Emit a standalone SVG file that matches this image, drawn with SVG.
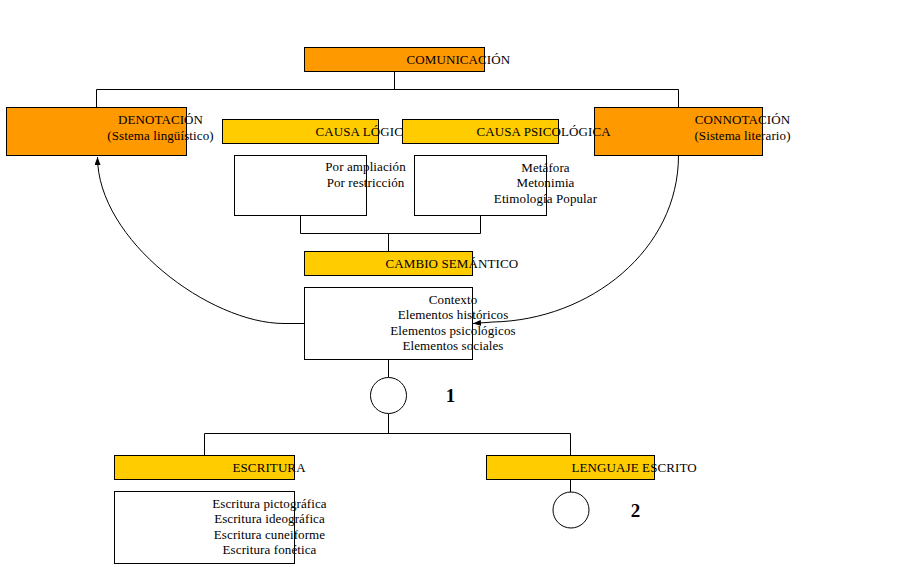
<svg xmlns="http://www.w3.org/2000/svg" width="924" height="567" viewBox="0 0 924 567">
<defs>
<style>
.o{fill:#FF9900;stroke:#000;stroke-width:1}
.y{fill:#FFCC00;stroke:#000;stroke-width:1}
.w{fill:#fff;stroke:#000;stroke-width:1}
.c{fill:none;stroke:#000;stroke-width:1}
text{font-family:"Liberation Serif","Times New Roman",serif;font-size:13px;fill:#000;letter-spacing:0.1px}
.m{text-anchor:middle}
.n{font-weight:bold;font-size:19px}
</style>
<marker id="ah" markerUnits="userSpaceOnUse" markerWidth="8" markerHeight="6" refX="8" refY="3" orient="auto">
<path d="M0,0 L8,3 L0,6 z" fill="#000"/>
</marker>
</defs>
<rect width="924" height="567" fill="#fff"/>
<g id="connectors" class="c">
<path class="c" d="M394.5,71.5 V89.5 M96.5,107.5 V89.5 H678.5 V107.5"/>
<path class="c" d="M300.5,215.5 V233.5 H480.5 V215.5 M388.5,233.5 V251.5"/>
<path class="c" d="M388.5,359.5 V377.5 M388.5,413.5 V433.5 M204.5,455.5 V433.5 H570.5 V455.5"/>
<path class="c" d="M570.5,479.5 V492"/>
<path class="c" d="M304.5,323.5 H284 C210,323.5 97.5,240 97.5,157" marker-end="url(#ah)"/>
<path class="c" d="M678.5,155.5 C678.5,250 590,320 493,322 L473,323.5" marker-end="url(#ah)"/>
</g>
<g id="comunicacion">
<rect class="o" x="304.5" y="47.5" width="180" height="24"/>
<text x="406.5" y="64">COMUNICACIÓN</text>
</g>
<g id="denotacion">
<rect class="o" x="6.5" y="107.5" width="180" height="48"/>
<text class="m" x="160.5" y="124">DENOTACIÓN</text>
<text class="m" x="160.5" y="139.5">(Sstema lingüístico)</text>
</g>
<g id="connotacion">
<rect class="o" x="594.5" y="107.5" width="168" height="48"/>
<text class="m" x="742.5" y="124">CONNOTACIÓN</text>
<text class="m" x="742.5" y="139.5">(Sistema literario)</text>
</g>
<g id="causa-logica">
<rect class="y" x="222.5" y="119.5" width="156" height="24"/>
<text x="315.5" y="135.5">CAUSA LÓGICA</text>
</g>
<g id="causa-psicologica">
<rect class="y" x="402.5" y="119.5" width="156" height="24"/>
<text x="476.5" y="135.5">CAUSA PSICOLÓGICA</text>
</g>
<g id="logica-lista">
<rect class="w" x="234.5" y="155.5" width="132" height="60"/>
<text class="m" x="365.5" y="171">Por ampliación</text>
<text class="m" x="365.5" y="186.5">Por restricción</text>
</g>
<g id="psicologica-lista">
<rect class="w" x="414.5" y="155.5" width="132" height="60"/>
<text class="m" x="545.5" y="171.5">Metáfora</text>
<text class="m" x="545.5" y="187">Metonimia</text>
<text class="m" x="545.5" y="202.5">Etimología Popular</text>
</g>
<g id="cambio-semantico">
<rect class="y" x="304.5" y="251.5" width="168" height="24"/>
<text x="385.5" y="267.5">CAMBIO SEMÁNTICO</text>
</g>
<g id="contexto">
<rect class="w" x="304.5" y="287.5" width="168" height="72"/>
<text class="m" x="453" y="303.5">Contexto</text>
<text class="m" x="453" y="319">Elementos históricos</text>
<text class="m" x="453" y="334.5">Elementos psicológicos</text>
<text class="m" x="453" y="350">Elementos sociales</text>
</g>
<g id="circulo-1">
<circle class="w" cx="388.5" cy="395.5" r="18"/>
<text class="n m" x="450.5" y="402">1</text>
</g>
<g id="escritura">
<rect class="y" x="114.5" y="455.5" width="180" height="24"/>
<text x="232.5" y="472">ESCRITURA</text>
</g>
<g id="escritura-lista">
<rect class="w" x="114.5" y="491.5" width="180" height="72"/>
<text class="m" x="269.5" y="507.5">Escritura pictográfica</text>
<text class="m" x="269.5" y="523">Escritura ideográfica</text>
<text class="m" x="269.5" y="538.5">Escritura cuneiforme</text>
<text class="m" x="269.5" y="554">Escritura fonética</text>
</g>
<g id="lenguaje-escrito">
<rect class="y" x="486.5" y="455.5" width="168" height="24"/>
<text x="571.5" y="472">LENGUAJE ESCRITO</text>
</g>
<g id="circulo-2">
<circle class="w" cx="571" cy="510" r="18"/>
<text class="n m" x="635.5" y="517">2</text>
</g>
</svg>
